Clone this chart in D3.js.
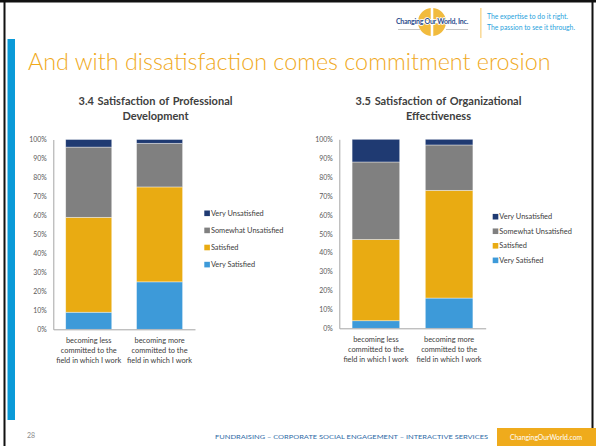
<!DOCTYPE html>
<html>
<head>
<meta charset="utf-8">
<script src="https://cdn.jsdelivr.net/npm/d3@7/dist/d3.min.js"></script>
<style>
  html, body { margin: 0; padding: 0; background: #fff; }
  svg { display: block; }
  text { font-family: Lato, "Open Sans", "DejaVu Sans", sans-serif; }
</style>
</head>
<body>
<svg id="slide" width="596" height="446"></svg>
<script>
// ---- Data ----
const categories = [
  ["becoming less", "committed to the", "field in which I work"],
  ["becoming more", "committed to the", "field in which I work"]
];
const seriesNames = ["Very Satisfied", "Satisfied", "Somewhat Unsatisfied", "Very Unsatisfied"];
const seriesColors = ["#3d9ad9", "#e9ab12", "#808080", "#1f3a72"];
const yTicks = [0, 10, 20, 30, 40, 50, 60, 70, 80, 90, 100];

// 3.4 Satisfaction of Professional Development (percent)
const devVerySatisfied = [9, 25];
const devSatisfied = [50, 50];
const devSomewhatUnsatisfied = [37, 23];
const devVeryUnsatisfied = [4, 2];

// 3.5 Satisfaction of Organizational Effectiveness (percent)
const effVerySatisfied = [4, 16];
const effSatisfied = [43, 57];
const effSomewhatUnsatisfied = [41, 24];
const effVeryUnsatisfied = [12, 3];

const svg = d3.select("#slide");

// ---- Slide frame ----
svg.append("rect").attr("x", 0).attr("y", 0).attr("width", 596).attr("height", 446).attr("fill", "#fff");
svg.append("rect").attr("x", 0).attr("y", 0).attr("width", 596).attr("height", 2.5).attr("fill", "#111");
svg.append("rect").attr("x", 3.5).attr("y", 0).attr("width", 2).attr("height", 446).attr("fill", "#111");
svg.append("rect").attr("x", 591.5).attr("y", 0).attr("width", 2).attr("height", 428).attr("fill", "#111");
svg.append("rect").attr("x", 7.5).attr("y", 39).attr("width", 7.5).attr("height", 381).attr("fill", "#0a9ad8");

// ---- Header logo ----
const logo = svg.append("g").attr("transform", "translate(432,22)");
const arc = d3.arc().innerRadius(3).outerRadius(14).padAngle(0.18);
[0, 1, 2, 3].forEach(i => {
  logo.append("path")
    .attr("d", arc({ startAngle: i * Math.PI / 2, endAngle: (i + 1) * Math.PI / 2 }))
    .attr("fill", "#f0b429").attr("opacity", 0.9);
});
svg.append("text").attr("x", 432).attr("y", 24).attr("text-anchor", "middle")
  .attr("font-size", 7).attr("font-weight", 700).attr("fill", "#2f4f8f")
  .attr("stroke", "#fff").attr("stroke-width", 1.5).attr("paint-order", "stroke")
  .attr("letter-spacing", -0.25)
  .text("Changing Our World, Inc.");
svg.append("rect").attr("x", 398).attr("y", 29).attr("width", 22).attr("height", 0.8).attr("fill", "#b8b8b8");
svg.append("rect").attr("x", 446).attr("y", 29).attr("width", 22).attr("height", 0.8).attr("fill", "#b8b8b8");
svg.append("rect").attr("x", 480.5).attr("y", 8).attr("width", 0.8).attr("height", 30).attr("fill", "#f3b73a");
svg.append("text").attr("x", 487).attr("y", 19).attr("font-size", 6.8).attr("fill", "#2aa3dd")
  .text("The expertise to do it right.");
svg.append("text").attr("x", 487).attr("y", 29.5).attr("font-size", 6.8).attr("fill", "#2aa3dd")
  .text("The passion to see it through.");

// ---- Slide title ----
const title = svg.append("text").attr("x", 28).attr("y", 70)
  .attr("font-size", 23).attr("font-weight", 300).attr("fill", "#f0a91c")
  .text("And with dissatisfaction comes commitment erosion");
(function fitTitle() {
  const w = title.node().getComputedTextLength();
  title.attr("font-size", 23 * 523 / w);
})();

// ---- Footer ----
svg.append("text").attr("x", 27).attr("y", 438).attr("font-size", 7).attr("fill", "#8c8c8c").text("28");
svg.append("text").attr("x", 215).attr("y", 439).attr("font-size", 6.4).attr("fill", "#2e6aa6")
  .attr("textLength", 273).attr("lengthAdjust", "spacingAndGlyphs")
  .text("FUNDRAISING  –  CORPORATE SOCIAL ENGAGEMENT  –  INTERACTIVE SERVICES");
svg.append("rect").attr("x", 497).attr("y", 428).attr("width", 99).attr("height", 18).attr("fill", "#efab1c");
svg.append("text").attr("x", 546).attr("y", 439.5).attr("text-anchor", "middle")
  .attr("font-size", 6.8).attr("fill", "#fff").text("ChangingOurWorld.com");

// ---- Chart drawing ----
function drawChart(cfg) {
  const rows = categories.map((c, i) => ({
    cat: i,
    "Very Satisfied": cfg.values[0][i],
    "Satisfied": cfg.values[1][i],
    "Somewhat Unsatisfied": cfg.values[2][i],
    "Very Unsatisfied": cfg.values[3][i]
  }));
  const stacked = d3.stack().keys(seriesNames)(rows);

  const x = d3.scaleBand().domain(categories.map((c, i) => i))
    .range([cfg.left, cfg.right]).paddingInner(0.35).paddingOuter(0.175);
  const y = d3.scaleLinear().domain([0, 100]).range([cfg.bottom, cfg.top]);

  const g = svg.append("g");

  // Title (two lines, bold, centred); size set so the first line spans titleWidth
  const titleLines = cfg.title.map((line, i) =>
    g.append("text").attr("x", cfg.titleX).attr("y", 104.5 + i * 15.5)
      .attr("text-anchor", "middle").attr("font-size", 10).attr("font-weight", 700)
      .attr("fill", "#404040").attr("word-spacing", 1).text(line));
  const w0 = titleLines[0].node().getComputedTextLength();
  const fs = Math.min(11, 10 * cfg.titleWidth / w0);
  titleLines.forEach(t => t.attr("font-size", fs));

  // Stacked bars
  g.selectAll("g.series").data(stacked).join("g")
    .attr("fill", (d, i) => seriesColors[i])
    .selectAll("rect").data(d => d).join("rect")
    .attr("x", d => x(d.data.cat))
    .attr("width", x.bandwidth())
    .attr("y", d => y(d[1]))
    .attr("height", d => y(d[0]) - y(d[1]))
    .attr("stroke", "rgba(255,255,255,0.55)")
    .attr("stroke-width", 0.7);

  // Y axis
  const yAxis = d3.axisLeft(y).tickValues(yTicks).tickSize(0).tickPadding(6.5)
    .tickFormat(d => d + "%");
  const ya = g.append("g").attr("transform", `translate(${cfg.left},0)`).call(yAxis);
  ya.select(".domain").attr("stroke", "#a6a6a6").attr("stroke-width", 1);
  ya.selectAll("text").attr("font-size", 6.9).attr("fill", "#595959")
    .attr("font-family", "Lato, 'Open Sans', sans-serif");

  // X axis
  const xAxis = d3.axisBottom(x).tickSize(0).tickFormat("");
  const xa = g.append("g").attr("transform", `translate(0,${cfg.bottom})`).call(xAxis);
  xa.select(".domain").attr("stroke", "#a6a6a6").attr("stroke-width", 1);

  categories.forEach((lines, i) => {
    const cx = x(i) + x.bandwidth() / 2;
    const t = g.append("text").attr("text-anchor", "middle").attr("font-size", 7.4).attr("fill", "#404040");
    lines.forEach((ln, j) => {
      t.append("tspan").attr("x", cx).attr("y", cfg.bottom + 13.5 + j * 10).text(ln);
    });
  });

  // Legend (top entry is the last stacked series)
  const legendOrder = seriesNames.map((s, i) => i).reverse();
  legendOrder.forEach((si, k) => {
    const cy = cfg.legendY + k * cfg.legendStep;
    g.append("rect").attr("x", cfg.legendX).attr("y", cy - 2.8).attr("width", 5.6).attr("height", 5.6)
      .attr("fill", seriesColors[si]);
    g.append("text").attr("x", cfg.legendX + 6.6).attr("y", cy + 2.6)
      .attr("font-size", 7.4).attr("fill", "#404040").text(seriesNames[si]);
  });
}

drawChart({
  title: ["3.4 Satisfaction of Professional", "Development"],
  titleX: 155.5, titleWidth: 159,
  values: [devVerySatisfied, devSatisfied, devSomewhatUnsatisfied, devVeryUnsatisfied],
  left: 53.3, right: 195, top: 139.5, bottom: 329.3,
  legendX: 204.3, legendY: 213.3, legendStep: 17.1
});

drawChart({
  title: ["3.5 Satisfaction of Organizational", "Effectiveness"],
  titleX: 438.5, titleWidth: 167,
  values: [effVerySatisfied, effSatisfied, effSomewhatUnsatisfied, effVeryUnsatisfied],
  left: 339.3, right: 485.7, top: 139.3, bottom: 328.3,
  legendX: 492.7, legendY: 216.7, legendStep: 14.55
});
</script>
</body>
</html>
